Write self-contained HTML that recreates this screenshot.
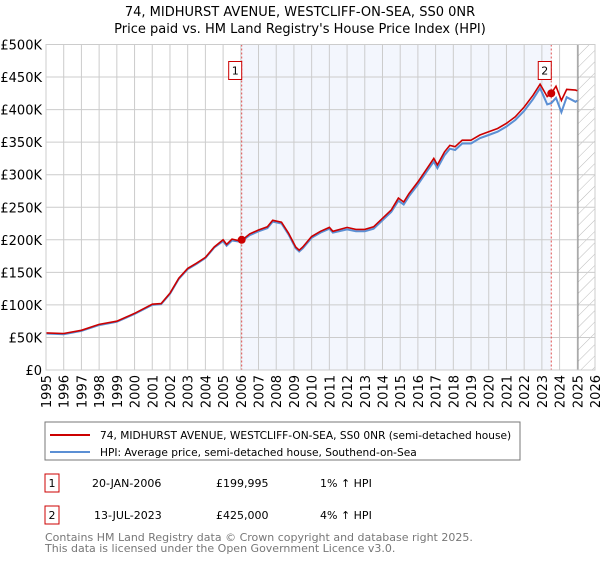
<!DOCTYPE html>
<html><head><meta charset="utf-8"><style>
body{margin:0;background:#fff;font-family:"DejaVu Sans","Liberation Sans",sans-serif;}
svg text{font-family:"DejaVu Sans","Liberation Sans",sans-serif;}
</style></head><body>
<svg id="c" width="600" height="560" viewBox="0 0 600 560">
<defs><pattern id="hatch" width="8" height="8" patternUnits="userSpaceOnUse" patternTransform="rotate(45)"><line x1="0" y1="0" x2="0" y2="8" stroke="#bbb" stroke-width="1"/></pattern></defs>
<text x="300" y="16" text-anchor="middle" font-size="13" fill="#000">74, MIDHURST AVENUE, WESTCLIFF-ON-SEA, SS0 0NR</text>
<text x="300" y="33" text-anchor="middle" font-size="13" fill="#000">Price paid vs. HM Land Registry's House Price Index (HPI)</text>
<g id="plot"></g>
<rect x="45" y="422" width="475" height="38" fill="#fff" stroke="#777"/>
<line x1="50" y1="435" x2="90" y2="435" stroke="#cc0000" stroke-width="2"/>
<text x="100" y="439" font-size="10.6">74, MIDHURST AVENUE, WESTCLIFF-ON-SEA, SS0 0NR (semi-detached house)</text>
<line x1="50" y1="452" x2="90" y2="452" stroke="#5b8fd4" stroke-width="2"/>
<text x="100" y="456" font-size="10.6">HPI: Average price, semi-detached house, Southend-on-Sea</text>
<g>
<rect x="45" y="474" width="14" height="18" fill="#fff" stroke="#cc0000"/><text x="52" y="487" font-size="11" text-anchor="middle">1</text>
<text x="92" y="487" font-size="11">20-JAN-2006</text><text x="216" y="487" font-size="11">£199,995</text><text x="320" y="487" font-size="11">1% ↑ HPI</text></g>
<g>
<rect x="45" y="506" width="14" height="18" fill="#fff" stroke="#cc0000"/><text x="52" y="519" font-size="11" text-anchor="middle">2</text>
<text x="94" y="519" font-size="11">13-JUL-2023</text><text x="216" y="519" font-size="11">£425,000</text><text x="320" y="519" font-size="11">4% ↑ HPI</text></g>
<text x="45" y="541" font-size="11" fill="#777">Contains HM Land Registry data © Crown copyright and database right 2025.</text>
<text x="45" y="552" font-size="11" fill="#777">This data is licensed under the Open Government Licence v3.0.</text>
</svg>
<script>
const years=[1995,1996,1997,1998,1999,2000,2001,2001.5,2002,2002.5,2003,2003.5,2004,2004.5,2005,2005.2,2005.5,2006,2006.5,2007,2007.5,2007.8,2008.3,2008.7,2009.1,2009.3,2009.5,2010,2010.5,2011,2011.2,2012,2012.5,2013,2013.5,2014,2014.5,2014.9,2015.2,2015.5,2016,2016.5,2016.9,2017.1,2017.5,2017.8,2018.1,2018.5,2019,2019.5,2020,2020.5,2021,2021.5,2022,2022.5,2022.9,2023.3,2023.53,2023.8,2024.1,2024.4,2024.9,2025.0];
const priceSeries=[57,56,61,70,75,87,101,102,118,141,156,164,173,189,200,193,201,198,209,215,220,230,227,210,189,184,189,205,213,219,213,219,216,216,220,233,246,264,258,271,289,309,325,315,335,345,343,353,353,361,366,371,379,389,404,422,439,420,425,436,414,431,430,429];
const hpiSeries=[56,55,60,69,74,86,100,101,117,140,155,163,172,188,198,191,199,197,207,213,218,228,225,208,187,182,187,203,211,217,211,216,213,213,217,230,243,260,254,267,285,305,320,310,330,340,338,348,348,356,361,366,374,384,398,416,433,408,410,418,396,419,412,414];
const yTicks=[0,50,100,150,200,250,300,350,400,450,500];
const xTicks=[1995,1996,1997,1998,1999,2000,2001,2002,2003,2004,2005,2006,2007,2008,2009,2010,2011,2012,2013,2014,2015,2016,2017,2018,2019,2020,2021,2022,2023,2024,2025,2026];
const sales=[{n:"1",t:2006.05,v:199.995},{n:"2",t:2023.53,v:425}];
const NS="http://www.w3.org/2000/svg";
const L=46,R=595,T=44.5,B=370;
const X=t=>L+(t-1995)/(2026-1995)*(R-L);
const Y=v=>B-v/500*(B-T);
const g=document.getElementById('plot');
function mk(tag,a){const e=document.createElementNS(NS,tag);for(const k in a)e.setAttribute(k,a[k]);g.appendChild(e);return e;}
let e;
e=mk('rect',{x:X(sales[0].t),y:T,width:X(sales[1].t)-X(sales[0].t),height:B-T,fill:'#f3f6fd'});


e=mk('rect',{x:X(2025.04),y:T,width:R-X(2025.04),height:B-T,fill:'url(#hatch)'});


yTicks.forEach(v=>{
 e=mk('line',{x1:L,x2:R,y1:Y(v),y2:Y(v),stroke:'#ccc','stroke-width':1});
 
 
 e=mk('text',{x:L-4,y:Y(v)+5,'text-anchor':'end','font-size':13});
 e.textContent=v===0?'£0':'£'+v+'K';
 
 
});
xTicks.forEach(t=>{
 e=mk('line',{x1:X(t),x2:X(t),y1:T,y2:B,stroke:'#ccc','stroke-width':1});
 
 
 e=mk('text',{x:0,y:0,'font-size':13,'text-anchor':'end',transform:`translate(${X(t)+5},${B+5}) rotate(-90)`});
 e.textContent=t;
 
 
});
e=mk('line',{x1:X(2025.04),x2:X(2025.04),y1:T,y2:B,stroke:'#888','stroke-width':1});


sales.forEach(s=>{
 e=mk('line',{x1:X(s.t),x2:X(s.t),y1:T,y2:B,stroke:'#e05050','stroke-width':1,'stroke-dasharray':'2,2'});
 
 
});
const pts=arr=>arr.map((v,i)=>X(years[i]).toFixed(1)+','+Y(v).toFixed(1)).join(' ');
e=mk('polyline',{points:pts(hpiSeries),fill:'none',stroke:'#5b8fd4','stroke-width':2});


e=mk('polyline',{points:pts(priceSeries),fill:'none',stroke:'#cc0000','stroke-width':1.6});


sales.forEach(s=>{
 e=mk('circle',{cx:X(s.t),cy:Y(s.v),r:4,fill:'#cc0000'});
 
 
 e=mk('rect',{x:X(s.t)-13,y:T+17,width:13,height:18,fill:'#fff',stroke:'#cc0000'});
 
 
 e=mk('text',{x:X(s.t)-6.5,y:T+30,'font-size':11,'text-anchor':'middle'});
 e.textContent=s.n;
 
 
});
e=mk('rect',{x:L,y:T,width:R-L,height:B-T,fill:'none',stroke:'#ccc'});


</script>
</body></html>
